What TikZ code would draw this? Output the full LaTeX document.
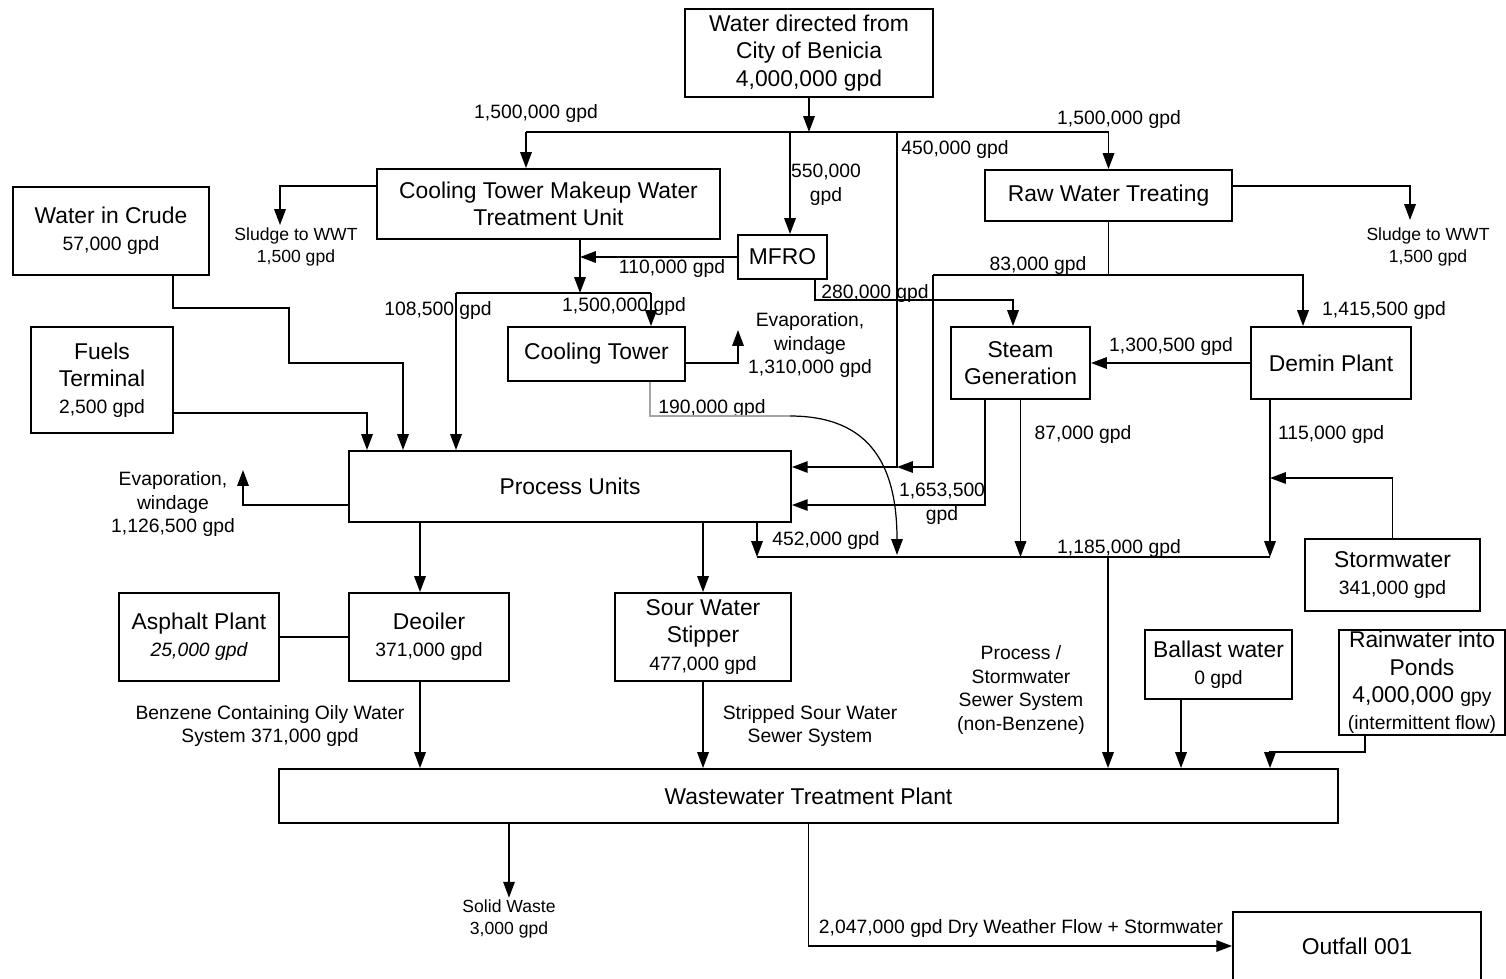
\documentclass[tikz,border=0pt]{standalone}
\usepackage{fontspec}
\setmainfont{Liberation Sans}
\usetikzlibrary{arrows.meta}

\newcommand{\gpdfont}{\fontsize{11}{13.5}\selectfont}

\begin{document}
\begin{tikzpicture}[x=0.02cm, y=-0.02cm,
	box/.style={draw, line width=1.1pt, align=center, inner sep=1pt, font=\fontsize{13}{15.5}\selectfont},
	lbl/.style={align=center, inner sep=1pt, font=\fontsize{11}{13.5}\selectfont},
	sml/.style={align=center, inner sep=1pt, font=\fontsize{10}{12.5}\selectfont},
	ln/.style={line width=0.95pt},
	arr/.style={ln, -{Triangle[length=9pt,width=6.5pt]}}]
	\useasboundingbox (0,0) rectangle (1506,978);

	% boxes
	\node[box, minimum width=4.96cm, minimum height=1.76cm] (src) at (809,53) {Water directed from\\City of Benicia\\4,000,000 gpd};
	\node[box, minimum width=6.86cm, minimum height=1.4cm] (ctmu) at (548.5,204) {Cooling Tower Makeup Water\\Treatment Unit};
	\node[box, minimum width=4.94cm, minimum height=1.02cm] (rwt) at (1108.5,195.5) {Raw Water Treating};
	\node[box, minimum width=3.92cm, minimum height=1.76cm] (crude) at (111,231) {Water in Crude\\\gpdfont 57,000 gpd};
	\node[box, minimum width=1.78cm, minimum height=0.88cm] (mfro) at (782.5,257) {MFRO};
	\node[box, minimum width=2.84cm, minimum height=2.12cm] (fuels) at (102,380) {Fuels\\Terminal\\\gpdfont 2,500 gpd};
	\node[box, minimum width=3.54cm, minimum height=1.08cm] (ct) at (596.5,354) {Cooling Tower};
	\node[box, minimum width=2.78cm, minimum height=1.44cm] (steam) at (1020.5,363) {Steam\\Generation};
	\node[box, minimum width=3.2cm, minimum height=1.44cm] (demin) at (1331,363) {Demin Plant};
	\node[box, minimum width=8.84cm, minimum height=1.42cm] (pu) at (570,486.5) {Process Units};
	\node[box, minimum width=3.5cm, minimum height=1.44cm] (storm) at (1392.5,575) {Stormwater\\\gpdfont 341,000 gpd};
	\node[box, minimum width=3.2cm, minimum height=1.76cm] (asphalt) at (199,637) {Asphalt Plant\\\gpdfont\itshape 25,000 gpd};
	\node[box, minimum width=3.2cm, minimum height=1.76cm] (deoiler) at (429,637) {Deoiler\\\gpdfont 371,000 gpd};
	\node[box, minimum width=3.52cm, minimum height=1.76cm] (sws) at (703,637) {Sour Water\\Stipper\\\gpdfont 477,000 gpd};
	\node[box, minimum width=2.94cm, minimum height=1.38cm] (ballast) at (1218.5,664.5) {Ballast water\\\gpdfont 0 gpd};
	\node[box, minimum width=3.32cm, minimum height=2.1cm] (rain) at (1422,682.5) {Rainwater into\\Ponds\\4,000,000 {\gpdfont gpy}\\\gpdfont (intermittent flow)};
	\node[box, minimum width=21.18cm, minimum height=1.08cm] (wwtp) at (808.5,796) {Wastewater Treatment Plant};
	\node[box, minimum width=4.96cm, minimum height=1.36cm] (outfall) at (1357,946) {Outfall 001};

	% flow labels
	\node[lbl] (l1500a) at (536,113) {1,500,000 gpd};
	\node[lbl] (l1500b) at (1119,119) {1,500,000 gpd};
	\node[lbl] (l550) at (826,185) {550,000\\gpd};
	\node[lbl] (l450) at (955,149) {450,000 gpd};
	\node[sml] (sludgeL) at (296,247) {Sludge to WWT\\1,500 gpd};
	\node[sml] (sludgeR) at (1428,247) {Sludge to WWT\\1,500 gpd};
	\node[lbl] (l110) at (672,268) {110,000 gpd};
	\node[lbl] (l1085) at (438,310) {108,500 gpd};
	\node[lbl] (l1500c) at (624,306) {1,500,000 gpd};
	\node[lbl] (l280) at (875,293) {280,000 gpd};
	\node[lbl] (l83) at (1038,265) {83,000 gpd};
	\node[lbl] (l1415) at (1384,310) {1,415,500 gpd};
	\node[lbl] (evapct) at (810,345) {Evaporation,\\windage\\1,310,000 gpd};
	\node[lbl] (l1300) at (1171,346) {1,300,500 gpd};
	\node[lbl] (l190) at (712,408) {190,000 gpd};
	\node[lbl] (l87) at (1083,434) {87,000 gpd};
	\node[lbl] (l115) at (1331,434) {115,000 gpd};
	\node[lbl] (l1653) at (942,504) {1,653,500\\gpd};
	\node[lbl] (evappu) at (173,504) {Evaporation,\\windage\\1,126,500 gpd};
	\node[lbl] (l452) at (826,540) {452,000 gpd};
	\node[lbl] (l1185) at (1119,548) {1,185,000 gpd};
	\node[lbl] (benz) at (270,726) {Benzene Containing Oily Water\\System 371,000 gpd};
	\node[lbl] (stripped) at (810,726) {Stripped Sour Water\\Sewer System};
	\node[lbl] (psw) at (1021,690) {Process /\\Stormwater\\Sewer System\\(non-Benzene)};
	\node[sml] (solid) at (509,919) {Solid Waste\\3,000 gpd};
	\node[lbl] (l2047) at (1021,928) {2,047,000 gpd Dry Weather Flow + Stormwater};

	% junctions
	\coordinate (busT) at (809,132);
	\coordinate (busL) at (526,132);
	\coordinate (tapM) at (790,132);
	\coordinate (tapP) at (897,132);
	\coordinate (j450) at (897,467);
	\coordinate (jc) at (580,293);
	\coordinate (jcL) at (456,293);
	\coordinate (jcR) at (651,293);
	\coordinate (jm) at (815,300);
	\coordinate (js) at (1013,300);
	\coordinate (jr) at (1108.5,275);
	\coordinate (jrL) at (933,275);
	\coordinate (jrR) at (1303,275);
	\coordinate (sL) at (280,225);
	\coordinate (sR) at (1410,220);
	\coordinate (cb1) at (289,308);
	\coordinate (cb2) at (403,363);
	\coordinate (fb) at (367,413);
	\coordinate (ctev) at (738,330);
	\coordinate (g1) at (650,416);
	\coordinate (g2) at (790,416);
	\coordinate (g3) at (897,555);
	\coordinate (sg1) at (985,505);
	\coordinate (puev) at (243,470);
	\coordinate (bus2L) at (757,557);
	\coordinate (bus2R) at (1270,557);
	\coordinate (j1108) at (1108,557);
	\coordinate (stj) at (1270,478);
	\coordinate (dx) at ([xshift=-0.18cm]deoiler.north);
	\coordinate (bx) at ([xshift=-0.75cm]ballast.south);
	\coordinate (rx) at (1365,752);

	% city water split
	\draw[arr] (src.south) -- (busT);
	\draw[arr] (busL) -| (rwt.north);
	\draw[arr] (busL) -- (busL |- ctmu.north);
	\draw[arr] (tapM) -- (tapM |- mfro.north);
	\draw[arr] (tapP) -- (j450) -- (j450 -| pu.east);

	% makeup water / cooling tower
	\draw[arr] ([yshift=0.36cm]ctmu.west) -| (sL);
	\draw[arr] (jc |- ctmu.south) -- (jc);
	\draw[arr] (mfro.west) -- (mfro.west -| jc);
	\draw[ln] (jcL) -- (jcR);
	\draw[arr] (jcL) -- (jcL |- pu.north);
	\draw[arr] (jcR) -- (jcR |- ct.north);
	\draw[arr] (jm |- mfro.south) |- (js) -- (js |- steam.north);
	\draw[arr] ([yshift=-0.18cm]ct.east) -| (ctev);
	\draw[line width=1.2pt, black!35] (g1 |- ct.south) -- (g1) -- (g2);
	\draw[arr, line width=0.7pt] (g2) .. controls +(80,0) and +(0,-90) .. (g3);

	% raw water
	\draw[arr] ([yshift=0.19cm]rwt.east) -| (sR);
	\draw[ln] (rwt.south) -- (jr);
	\draw[arr] (jrL) -- (jrR) -- (jrR |- demin.north);
	\draw[arr] (jrL) |- (j450);
	\draw[arr] (demin.west) -- (steam.east);

	% inputs to process units
	\draw[arr] ([xshift=1.24cm]crude.south) |- (cb1) |- (cb2) -- (cb2 |- pu.north);
	\draw[arr] (fuels.east |- fb) -- (fb) -- (fb |- pu.north);
	\draw[arr] (sg1 |- steam.south) -- (sg1) -- (sg1 -| pu.east);
	\draw[arr] (pu.west |- sg1) -| (puev);

	% lower collection line
	\draw[arr] (steam.south) -- (steam.south |- bus2L);
	\draw[arr] (bus2L |- pu.south) -- (bus2L);
	\draw[ln] (bus2L) -- (bus2R);
	\draw[arr] (bus2R |- demin.south) -- (bus2R);
	\draw[arr] (storm.north) |- (stj);
	\draw[arr] (j1108) -- (j1108 |- wwtp.north);

	% process units to treatment
	\draw[arr] (dx |- pu.south) -- (dx);
	\draw[arr] (pu.south -| sws.north) -- (sws.north);
	\draw[ln] (asphalt) -- (deoiler);
	\draw[arr] (dx |- deoiler.south) -- (dx |- wwtp.north);
	\draw[arr] (sws.south) -- (sws.south |- wwtp.north);
	\draw[arr] (bx) -- (bx |- wwtp.north);
	\draw[arr] (rx |- rain.south) -- (rx) -| (bus2R |- wwtp.north);

	% outlets
	\draw[arr] (wwtp.south -| solid.north) -- (solid.north);
	\draw[arr] (wwtp.south) |- (outfall.west);
\end{tikzpicture}
\end{document}
